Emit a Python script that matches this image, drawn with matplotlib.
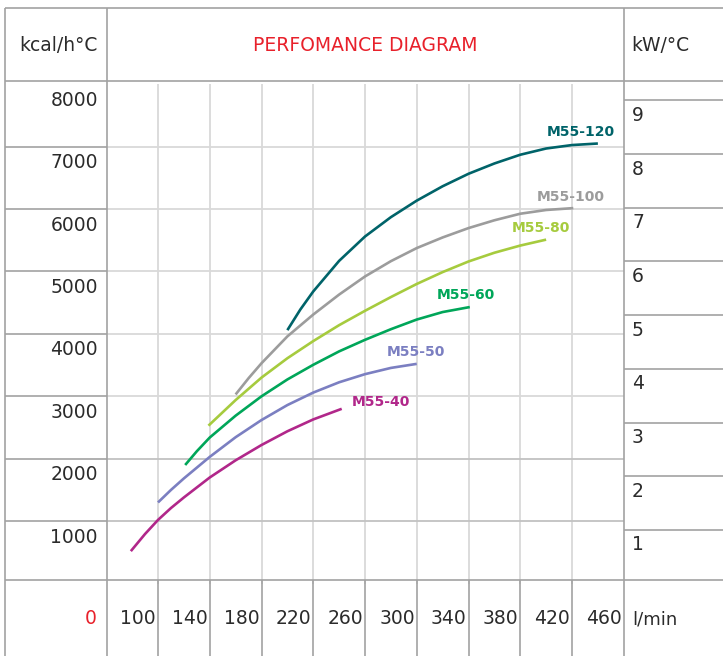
import matplotlib.pyplot as plt

W, H = 723, 656

# axis values
flow_ticks = [100, 140, 180, 220, 260, 300, 340, 380, 420, 460]
kcal_ticks = [1000, 2000, 3000, 4000, 5000, 6000, 7000, 8000]
kw_ticks = [1, 2, 3, 4, 5, 6, 7, 8, 9]
KCAL_PER_KW = 860

# curves (l/min -> kcal/h°C)
m40_x = [79, 90, 100, 110, 120, 140, 160, 180, 200, 220, 242]
m40_y = [520, 795, 1020, 1210, 1380, 1700, 1975, 2220, 2440, 2630, 2800]

m50_x = [100, 110, 120, 140, 160, 180, 200, 220, 240, 260, 280, 300]
m50_y = [1300, 1500, 1685, 2030, 2345, 2620, 2860, 3060, 3225, 3355, 3455, 3520]

m60_x = [121, 130, 140, 160, 180, 200, 220, 240, 260, 280, 300, 320, 341]
m60_y = [1900, 2120, 2340, 2690, 3000, 3270, 3505, 3720, 3905, 4075, 4230, 4350, 4430]

m80_x = [139, 150, 160, 180, 200, 220, 240, 260, 280, 300, 320, 340, 360, 380, 400]
m80_y = [2530, 2745, 2940, 3300, 3610, 3885, 4140, 4370, 4590, 4800, 4990, 5160, 5300, 5415, 5510]

m100_x = [160, 170, 180, 200, 220, 240, 260, 280, 300, 320, 340, 360, 380, 400, 421]
m100_y = [3030, 3290, 3530, 3960, 4310, 4630, 4920, 5165, 5375, 5545, 5695, 5820, 5925, 5985, 6015]

m120_x = [200, 210, 220, 240, 260, 280, 300, 320, 340, 360, 380, 400, 420, 440]
m120_y = [4060, 4390, 4680, 5170, 5560, 5870, 6135, 6365, 6565, 6730, 6870, 6970, 7025, 7050]

names = ['M55-40', 'M55-50', 'M55-60', 'M55-80', 'M55-100', 'M55-120']
colors = ['#b1278a', '#7b7fc1', '#00a659', '#a6cb3e', '#9c9c9c', '#006369']
label_x = [272, 299, 338, 396, 419, 427]
label_y = [2910, 3710, 4620, 5700, 6200, 7240]

DARK = '#a2a2a2'
LIGHT = '#d9d9d9'
RED = '#e8212b'
TXT = '#2b2b2b'

plt.rcParams['font.family'] = ['DejaVu Sans']

fig = plt.figure(figsize=(W / 100, H / 100), dpi=100)

# data area
ax = fig.add_axes([106.25 / W, (H - 583.6) / H, 517.5 / W, 499.4 / H])
ax.set_xlim(60, 460)
ax.set_ylim(0, 8000)
ax.set_xticks(flow_ticks[:-1])
ax.set_yticks(kcal_ticks[:-1])
ax.grid(True, color=LIGHT, lw=1.3)
# the two lowest rows are ruled a little darker in the original
for gl, v in zip(ax.get_ygridlines(), kcal_ticks[:-1]):
    if v <= 2000:
        gl.set_color('#c2c2c2')
ax.tick_params(length=0, labelbottom=False, labelleft=False)
for s in ax.spines.values():
    s.set_visible(False)
ax.patch.set_alpha(0)

curves = [(m40_x, m40_y), (m50_x, m50_y), (m60_x, m60_y),
          (m80_x, m80_y), (m100_x, m100_y), (m120_x, m120_y)]
for (xs, ys), name, c, lx, ly in zip(curves, names, colors, label_x, label_y):
    ax.plot(xs, ys, color=c, lw=1.9, solid_capstyle='butt', solid_joinstyle='round')
    ax.text(lx, ly, name, color=c, fontsize=10, fontweight='bold',
            ha='center', va='center')

# table frame in pixel coords
bg = fig.add_axes([0, 0, 1, 1])
bg.set_xlim(0, W)
bg.set_ylim(H, 0)
bg.axis('off')
bg.set_zorder(2)


def px(x, y):
    dx, dy = ax.transData.transform((x, y))
    return dx, H - dy


def line(x0, y0, x1, y1):
    bg.plot([x0, x1], [y0, y1], color=DARK, lw=1.2, solid_capstyle='butt')


left, top, head, foot, col1, col2 = 5, 7.5, 81, 580, 107, 624
line(left, top, W, top)
line(left, head, W, head)
line(left, foot, W, foot)
line(left, top, left, H)
line(col1, top, col1, H)
line(col2, top, col2, H)

for v in kcal_ticks:
    _, y = px(60, v)
    if v < kcal_ticks[-1]:
        line(left, y, col1, y)
    bg.text(98, y + 16, str(v), ha='right', va='center', fontsize=13.5, color=TXT)

for f in flow_ticks:
    x, _ = px(f, 0)
    if f < flow_ticks[-1]:
        line(x, foot, x, H)
    bg.text(x - 2, 619, str(f), ha='right', va='center', fontsize=13.5, color=TXT)

for k in kw_ticks:
    _, y = px(60, k * KCAL_PER_KW)
    line(col2, y, W, y)
    bg.text(632, y + 15, str(k), ha='left', va='center', fontsize=13.5, color=TXT)

bg.text(97, 619, '0', ha='right', va='center', fontsize=13.5, color=RED)
bg.text(632, 619, 'l/min', ha='left', va='center', fontsize=13, color=TXT)

bg.text(98, 45.5, 'kcal/h°C', ha='right', va='center', fontsize=13.5, color=TXT)
bg.text(365.5, 45.5, 'PERFOMANCE DIAGRAM', ha='center', va='center', fontsize=13.5, color=RED)
bg.text(631, 45.5, 'kW/°C', ha='left', va='center', fontsize=13.5, color=TXT)

fig.savefig('out.png', dpi=100)
